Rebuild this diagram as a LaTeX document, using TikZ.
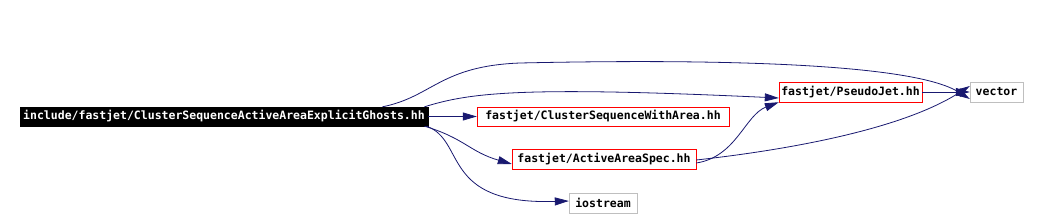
\documentclass[tikz,border=0pt]{standalone}
\usepackage{fontspec}
\newfontfamily\filefont{DejaVu Sans Mono}
\usepackage{tikz}
\usetikzlibrary{arrows.meta,positioning}
\definecolor{edgeblue}{RGB}{25,25,112}
\definecolor{docred}{RGB}{255,0,0}
\definecolor{docgrey}{RGB}{191,191,191}

\begin{document}
\begin{tikzpicture}[
    x=1pt, y=-1pt,
    filebox/.style={rectangle, draw=docred, fill=white, minimum height=20pt,
        inner sep=0pt, font=\filefont\fontsize{11.5}{12}\selectfont\bfseries},
    mainbox/.style={filebox, draw=black, fill=black, text=white,
        minimum height=19pt, inner xsep=3.5pt},
    sysbox/.style={filebox, draw=docgrey},
    dep/.style={draw=edgeblue, -{Triangle[length=14pt,width=8pt]}, line width=0.8pt},
]
\useasboundingbox (0,0) rectangle (1038,217);

\node[mainbox] (main) at (224,116.5) {include/fastjet/ClusterSequenceActiveAreaExplicitGhosts.hh};
\node[filebox, minimum width=252pt, minimum height=19pt] (cswa) at (603,116.5) {fastjet/ClusterSequenceWithArea.hh};
\node[filebox, minimum width=184pt] (aas) at (604,159) {fastjet/ActiveAreaSpec.hh};
\node[sysbox, minimum width=68pt] (ios) at (603,203) {iostream};
\node[filebox, minimum width=143pt] (pj) at (850.5,92) {fastjet/PseudoJet.hh};
\node[sysbox, minimum width=53pt] (vec) at (996.5,92) {vector};

% edges out of the main header
\draw[dep] ([xshift=-46pt]main.north east) .. controls +(50,-10) and (440,66) .. (520,63)
    .. controls (700,59) and (910,62) .. ([yshift=-7pt]vec.west);
\draw[dep] ([xshift=-4pt]main.north east) .. controls +(45,-14) and (520,86) .. ([yshift=-6pt]pj.west);
\draw[dep] (main.east) -- (cswa.west);
\draw[dep] ([xshift=-4pt]main.south east) .. controls +(40,12) and (470,152) .. ([yshift=-5pt]aas.west);
\draw[dep] ([xshift=-2pt]main.south east) .. controls +(40,14) and (440,205) .. ([yshift=2pt]ios.west);

% edges out of ActiveAreaSpec.hh
\draw[dep] ([yshift=-4pt]aas.east) .. controls +(40,-6) and (745,115) .. (pj.south west);
\draw[dep] ([yshift=-1pt]aas.east) .. controls +(90,-10) and (900,130) .. ([yshift=6pt]vec.west);

\draw[dep] (pj.east) -- (vec.west);
\end{tikzpicture}
\end{document}
